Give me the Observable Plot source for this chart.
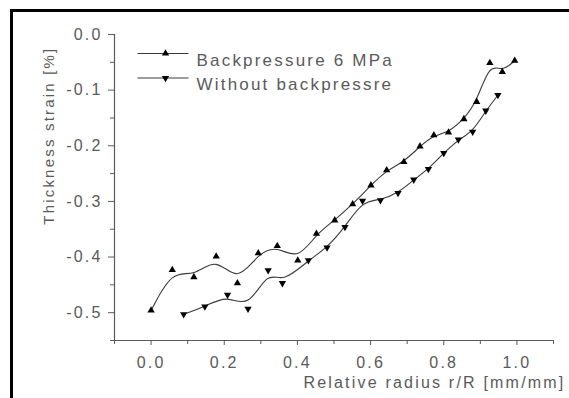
<!DOCTYPE html>
<html><head><meta charset="utf-8">
<script src="https://cdn.jsdelivr.net/npm/d3@7"></script>
<script src="https://cdn.jsdelivr.net/npm/@observablehq/plot@0.6"></script>
<style>
html,body{margin:0;padding:0;background:#fff;}
#wrap{position:relative;width:569px;height:398px;overflow:hidden;}
#border{position:absolute;left:10px;top:9px;width:600px;height:420px;border-left:3px solid #000;border-top:3px solid #000;pointer-events:none;}
</style></head><body><div id="wrap"><div id="border"></div></div>
<script>
// Series: Backpressure 6 MPa (up triangles)
const bpX = [0.000, 0.058, 0.117, 0.178, 0.236, 0.293, 0.345, 0.401, 0.452, 0.502, 0.551, 0.601, 0.644, 0.691, 0.735, 0.773, 0.813, 0.855, 0.890, 0.926, 0.960, 0.994];
const bpY = [-0.496, -0.423, -0.436, -0.399, -0.447, -0.393, -0.380, -0.406, -0.358, -0.334, -0.305, -0.271, -0.244, -0.229, -0.201, -0.181, -0.176, -0.152, -0.121, -0.051, -0.067, -0.047];
// Series: Without backpressre (down triangles)
const woX = [0.089, 0.147, 0.209, 0.265, 0.320, 0.359, 0.430, 0.481, 0.530, 0.578, 0.627, 0.675, 0.718, 0.758, 0.800, 0.840, 0.879, 0.915, 0.948];
const woY = [-0.503, -0.489, -0.468, -0.493, -0.424, -0.447, -0.406, -0.383, -0.346, -0.299, -0.298, -0.285, -0.261, -0.242, -0.213, -0.189, -0.175, -0.137, -0.109];

const seriesNames = ["Backpressure 6 MPa", "Without backpressre"];
const xTitle = "Relative radius r/R [mm/mm]";
const yTitle = "Thickness strain [%]";
const xDomain = [-0.1, 1.1];
const yDomain = [-0.55, 0];
const xMajor = [0, 0.2, 0.4, 0.6, 0.8, 1.0];
const xMinor = [-0.1, 0.1, 0.3, 0.5, 0.7, 0.9, 1.1];
const yMajor = [0, -0.1, -0.2, -0.3, -0.4, -0.5];
const yMinor = [-0.05, -0.15, -0.25, -0.35, -0.45, -0.55];

const bp = bpX.map((x, i) => ({x, y: bpY[i]}));
const wo = woX.map((x, i) => ({x, y: woY[i]}));

const S3 = Math.sqrt(3);
const side = 7.3;
const triUp = {draw(ctx) { const y = -side / (2 * S3); ctx.moveTo(0, 2 * y); ctx.lineTo(-S3 * y, -y); ctx.lineTo(S3 * y, -y); ctx.closePath(); }};
const triDown = {draw(ctx) { const y = side / (2 * S3); ctx.moveTo(0, 2 * y); ctx.lineTo(-S3 * y, -y); ctx.lineTo(S3 * y, -y); ctx.closePath(); }};
const legLine = {draw(ctx) { ctx.moveTo(-28, 0); ctx.lineTo(23, 0); }};

const fmt = d => d.toFixed(1);
const axisColor = "#5a5a5a";
const textColor = "#5a5a5a";
const lineColor = "#3a3a3a";

const chart = Plot.plot({
  width: 569, height: 398,
  marginLeft: 114, marginRight: 16, marginTop: 34, marginBottom: 58,
  x: {domain: xDomain},
  y: {domain: yDomain},
  style: {fontFamily: "'Liberation Sans', Arial, sans-serif", fontSize: "16px", letterSpacing: "2.2px", background: "transparent", overflow: "visible"},
  marks: [
    Plot.ruleX([xDomain[0]], {stroke: axisColor, strokeWidth: 1.2}),
    Plot.ruleY([yDomain[0]], {stroke: axisColor, strokeWidth: 1.2}),
    Plot.axisY(yMajor, {tickSize: 6, tickPadding: 6, tickFormat: fmt, label: null, stroke: axisColor, fill: textColor}),
    Plot.axisY(yMinor, {tickSize: 4, tickFormat: () => "", label: null, stroke: axisColor}),
    Plot.axisX(xMajor, {tickSize: 5, tickPadding: 11, tickFormat: fmt, label: null, stroke: axisColor, fill: textColor}),
    Plot.axisX(xMinor, {tickSize: 4, tickFormat: () => "", label: null, stroke: axisColor}),
    Plot.line(bp, {x: "x", y: "y", curve: "basis", stroke: lineColor, strokeWidth: 1.1}),
    Plot.line(wo, {x: "x", y: "y", curve: "basis", stroke: lineColor, strokeWidth: 1.1}),
    Plot.dot(bp, {x: "x", y: "y", symbol: triUp, fill: "#000", stroke: "none"}),
    Plot.dot(wo, {x: "x", y: "y", symbol: triDown, fill: "#000", stroke: "none"}),
    // legend
    Plot.dot([0], {frameAnchor: "top-left", dx: 51, dy: 19, symbol: legLine, fill: "none", stroke: lineColor, strokeWidth: 1.1}),
    Plot.dot([0], {frameAnchor: "top-left", dx: 51, dy: 43.5, symbol: legLine, fill: "none", stroke: lineColor, strokeWidth: 1.1}),
    Plot.dot([0], {frameAnchor: "top-left", dx: 51, dy: 19, symbol: triUp, fill: "#000", stroke: "none"}),
    Plot.dot([0], {frameAnchor: "top-left", dx: 51, dy: 43.5, symbol: triDown, fill: "#000", stroke: "none"}),
    Plot.text([seriesNames[0]], {frameAnchor: "top-left", dx: 82, dy: 19, textAnchor: "start", fill: textColor, fontSize: 17}),
    Plot.text([seriesNames[1]], {frameAnchor: "top-left", dx: 82, dy: 43.5, textAnchor: "start", fill: textColor, fontSize: 17}),
    // axis titles
    Plot.text([xTitle], {frameAnchor: "bottom-right", dx: 12, dy: 47, textAnchor: "end", fill: textColor, fontSize: 16}),
    Plot.text([yTitle], {frameAnchor: "top-left", dx: -71, dy: 12, rotate: -90, textAnchor: "end", fill: textColor, fontSize: 15})
  ]
});
document.getElementById("wrap").insertBefore(chart, document.getElementById("border"));
</script>
</body></html>
